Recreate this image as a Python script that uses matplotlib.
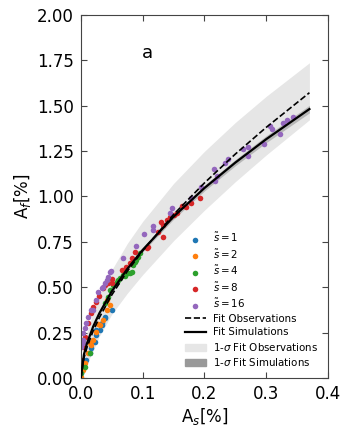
import matplotlib
matplotlib.use('Agg')
import matplotlib.pyplot as plt
from matplotlib.patches import Patch
from matplotlib.lines import Line2D

# scatter points, one pair of lists per s~ value
s1_x = [0.050, 0.039, 0.0335, 0.031, 0.025, 0.023, 0.017, 0.0146, 0.009, 0.005, 0.001, 0.039, 0.0335, 0.025]
s1_y = [0.375, 0.329, 0.292, 0.264, 0.237, 0.200, 0.164, 0.136, 0.099, 0.062, 0.026, 0.338, 0.301, 0.264]

s2_x = [0.047, 0.042, 0.036, 0.031, 0.025, 0.020, 0.017, 0.012, 0.0065, 0.003, 0.0005, 0.042, 0.015, 0.028]
s2_y = [0.402, 0.375, 0.320, 0.292, 0.255, 0.209, 0.182, 0.136, 0.081, 0.044, 0.007, 0.430, 0.191, 0.300]

s4_x = [0.0955, 0.093, 0.090, 0.085, 0.082, 0.077, 0.0685, 0.063, 0.058, 0.052, 0.047, 0.044,
        0.039, 0.087, 0.079, 0.0146, 0.0065, 0.001, 0.072, 0.060]
s4_y = [0.687, 0.668, 0.650, 0.623, 0.586, 0.577, 0.567, 0.549, 0.531, 0.512, 0.485, 0.448,
        0.412, 0.641, 0.577, 0.136, 0.062, 0.027, 0.560, 0.540]

s8_x = [0.193, 0.179, 0.171, 0.163, 0.155, 0.150, 0.144, 0.139, 0.133, 0.129, 0.125, 0.133,
        0.109, 0.107, 0.087, 0.082, 0.079, 0.073, 0.066, 0.051, 0.044, 0.039, 0.036, 0.050,
        0.020, 0.017, 0.012, 0.0065, 0.004, 0.001, 0.025, 0.030]
s8_y = [0.993, 0.962, 0.944, 0.948, 0.907, 0.898, 0.889, 0.870, 0.843, 0.861, 0.806, 0.778,
        0.723, 0.714, 0.696, 0.659, 0.632, 0.613, 0.595, 0.544, 0.522, 0.512, 0.494, 0.522,
        0.393, 0.356, 0.301, 0.228, 0.172, 0.099, 0.420, 0.450]

s16_x = [0.343, 0.334, 0.328, 0.322, 0.310, 0.306, 0.296, 0.271, 0.270, 0.263, 0.239, 0.233,
         0.221, 0.217, 0.215, 0.194, 0.179, 0.147, 0.144, 0.117, 0.116, 0.102, 0.090, 0.0685,
         0.048, 0.044, 0.039, 0.036, 0.028, 0.025, 0.019, 0.047, 0.042, 0.0335, 0.017, 0.012,
         0.009, 0.0065, 0.004, 0.003, 0.001, 0.004]
s16_y = [1.440, 1.421, 1.407, 1.344, 1.370, 1.388, 1.288, 1.274, 1.223, 1.260, 1.205, 1.183,
         1.113, 1.087, 1.152, 1.054, 0.993, 0.935, 0.907, 0.839, 0.815, 0.793, 0.727, 0.659,
         0.591, 0.558, 0.522, 0.503, 0.475, 0.430, 0.375, 0.586, 0.540, 0.494, 0.375, 0.338,
         0.301, 0.274, 0.246, 0.209, 0.172, 0.191]

# fitted curves
fit_x = [0.0, 0.005, 0.01, 0.02, 0.03, 0.05, 0.075, 0.1, 0.15, 0.2, 0.25, 0.3, 0.37]
fit_obs = [0.0, 0.110, 0.169, 0.260, 0.333, 0.457, 0.587, 0.700, 0.900, 1.074, 1.233, 1.380, 1.571]
fit_obs_hi = [0.0, 0.174, 0.252, 0.366, 0.453, 0.595, 0.740, 0.862, 1.071, 1.248, 1.407, 1.551, 1.736]
fit_obs_lo = [0.0, 0.040, 0.080, 0.150, 0.230, 0.351, 0.466, 0.569, 0.756, 0.924, 1.081, 1.228, 1.422]
fit_sim = [0.0, 0.130, 0.192, 0.284, 0.357, 0.477, 0.600, 0.705, 0.888, 1.046, 1.186, 1.315, 1.481]
fit_sim_hi = [0.0, 0.133, 0.196, 0.289, 0.363, 0.485, 0.610, 0.716, 0.902, 1.062, 1.203, 1.334, 1.502]
fit_sim_lo = [0.0, 0.127, 0.188, 0.279, 0.351, 0.469, 0.590, 0.694, 0.874, 1.030, 1.169, 1.296, 1.460]

fig = plt.figure(figsize=(3.5, 4.36), dpi=100)
ax = fig.add_axes([0.231, 0.133, 0.706, 0.833])

ax.fill_between(fit_x, fit_obs_lo, fit_obs_hi, color='#e6e6e6', lw=0, zorder=1)
ax.fill_between(fit_x, fit_sim_lo, fit_sim_hi, color='#999999', alpha=0.6, lw=0, zorder=1)

series = [(s1_x, s1_y, '1'), (s2_x, s2_y, '2'), (s4_x, s4_y, '4'),
          (s8_x, s8_y, '8'), (s16_x, s16_y, '16')]
colors = ['tab:blue', 'tab:orange', 'tab:green', 'tab:red', 'tab:purple']
handles = []
for (xs, ys, lab), c in zip(series, colors):
    h = ax.scatter(xs, ys, s=16, color=c, lw=0, zorder=2, label=r'$\tilde{s}=%s$' % lab)
    handles.append(h)

ax.plot(fit_x, fit_obs, 'k--', lw=1.2, zorder=3)
ax.plot(fit_x, fit_sim, 'k-', lw=1.6, zorder=3)

handles += [Line2D([], [], color='k', ls='--', lw=1.2),
            Line2D([], [], color='k', ls='-', lw=1.6),
            Patch(color='#e6e6e6'),
            Patch(color='#999999')]
labels = [r'$\tilde{s}=1$', r'$\tilde{s}=2$', r'$\tilde{s}=4$', r'$\tilde{s}=8$', r'$\tilde{s}=16$',
          'Fit Observations', 'Fit Simulations',
          r'1-$\sigma$ Fit Observations', r'1-$\sigma$ Fit Simulations']
ax.legend(handles, labels, loc='lower right', frameon=False, fontsize=7.4,
          scatterpoints=1, labelspacing=0.34, handlelength=2.0, handletextpad=0.7,
          borderaxespad=0.55)

ax.text(0.108, 1.79, 'a', fontsize=13, ha='center', va='center')

ax.set_xlim(0, 0.4)
ax.set_ylim(0, 2.0)
ax.set_xticks([0.0, 0.1, 0.2, 0.3, 0.4])
ax.set_yticks([0.0, 0.25, 0.5, 0.75, 1.0, 1.25, 1.5, 1.75, 2.0])
ax.set_yticklabels(['0.00', '0.25', '0.50', '0.75', '1.00', '1.25', '1.50', '1.75', '2.00'])
ax.tick_params(direction='in', top=True, right=True, labelsize=12, length=4,
               color='#444444', pad=5)
for sp in ax.spines.values():
    sp.set_color('#444444')
ax.set_xlabel(r'A$_s$[%]', fontsize=12, labelpad=2)
ax.set_ylabel(r'A$_f$[%]', fontsize=12, labelpad=3)

fig.savefig('out.png', dpi=100)
